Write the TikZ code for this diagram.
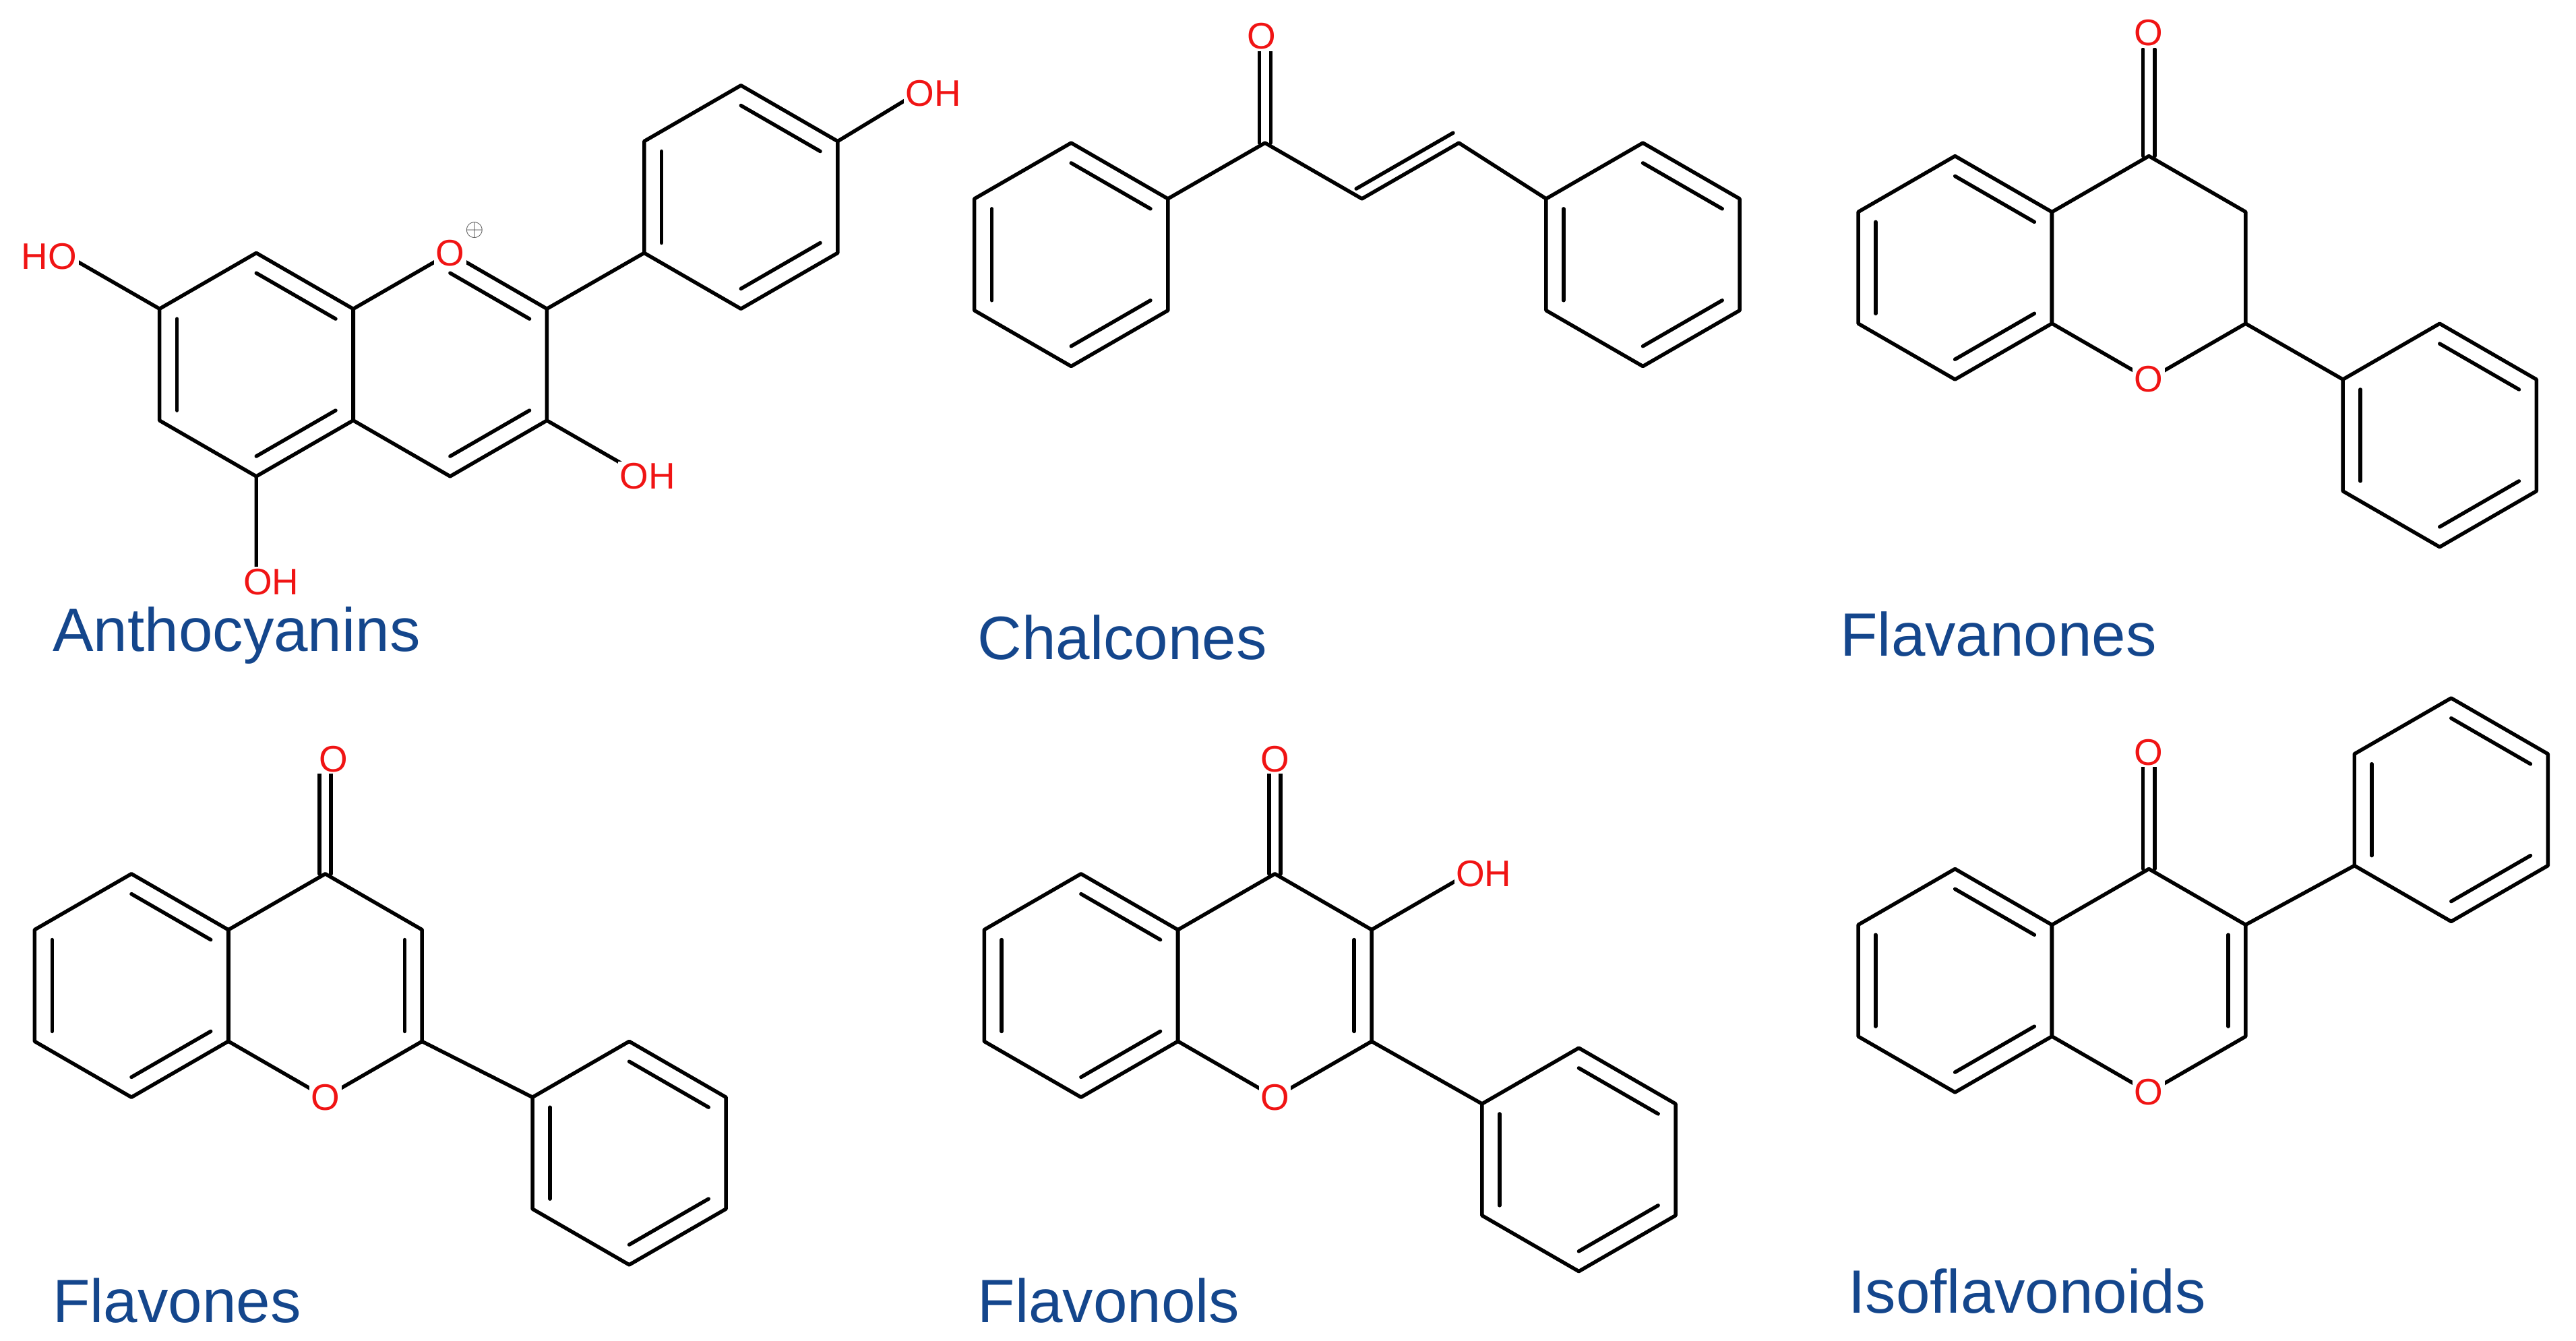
\documentclass[tikz,border=0pt]{standalone}
\usepackage{fontspec}
\setmainfont{Liberation Sans}
\usetikzlibrary{calc}
\definecolor{lblue}{RGB}{20,70,140}
\definecolor{ored}{RGB}{240,20,20}
\tikzset{bond/.style={line width=3.2pt,line cap=round,line join=round},
 atom/.style={text=ored,fill=white,inner sep=1.5pt,font=\fontsize{32}{34}\selectfont},
 lbl/.style={text=lblue,anchor=west,inner sep=0pt,font=\fontsize{53}{62}\selectfont}}
\newcommand\hexa[3]{\foreach \i/\a in {1/-90,2/-30,3/30,4/90,5/150,6/210}{\coordinate (#1\i) at ($(#2,#3)+(\a:68)$);}
 \coordinate (#1c) at (#2,#3);
 \draw[bond] (#11)--(#12)--(#13)--(#14)--(#15)--(#16)--cycle;}
\newcommand\inb[3]{\draw[bond] ($(#1)!0.18!(#3)$) -- ($(#2)!0.18!(#3)$);}
\newcommand\arom[1]{\inb{#11}{#12}{#1c}\inb{#13}{#14}{#1c}\inb{#15}{#16}{#1c}}
\newcommand\cod[2]{\draw[bond] ($(#1)!5pt!90:(#2)$) -- ($(#2)!5pt!-90:(#1)$);
 \draw[bond] ($(#1)!5pt!-90:(#2)$) -- ($(#2)!5pt!90:(#1)$);}
\begin{document}
\begin{tikzpicture}[x=0.05cm,y=-0.05cm]
\useasboundingbox (0,0) rectangle (1568,816);
% ---- Anthocyanins
\hexa{aa}{156}{222}\hexa{ac}{274}{222}\hexa{ab}{451}{120}
\inb{aa1}{aa2}{aac}\inb{aa3}{aa4}{aac}\inb{aa5}{aa6}{aac}
\inb{ac1}{ac2}{acc}\inb{ac3}{ac4}{acc}
\arom{ab}
\coordinate (aOH1) at (38,154);\coordinate (aOH2) at (392,290);
\coordinate (aOH3) at (156,350);\coordinate (aOH4) at (556,58);
\draw[bond] (aa6)--(aOH1) (ac3)--(aOH2) (aa4)--(aOH3) (ab2)--(aOH4) (ac2)--(ab5);
\node[atom] (ao) at (ac1) {O};
\node[text=black!70,font=\fontsize{22}{24}\selectfont,inner sep=0pt] (aplus) at (289,140) {$\oplus$};
\node[atom,anchor=east] (ah1) at (48,156) {HO};
\node[atom,anchor=west] (ah2) at (376,290) {OH};
\node[atom,anchor=north] (ah3) at (165,345) {OH};
\node[atom,anchor=west] (ah4) at (550,57) {OH};
\node[lbl] (l1) at (32,387) {Anthocyanins};
% ---- Chalcones
\hexa{ca}{652}{155}\hexa{cb}{1000}{155}
\arom{ca}\inb{cb1}{cb2}{cbc}\inb{cb3}{cb4}{cbc}\inb{cb5}{cb6}{cbc}
\coordinate (c1) at (770,87);\coordinate (c2) at (829,121);\coordinate (c3) at (888,87);
\coordinate (cO) at (770,28);
\draw[bond] (ca2)--(c1)--(c2)--(c3)--(cb6);
\draw[bond] ($(c2)!10pt!90:(c3)$) -- ($(c3)!10pt!-90:(c2)$);
\cod{c1}{cO}
\node[atom] (co) at (768,22) {O};
\node[lbl] (l2) at (595,388) {Chalcones};
% ---- Flavanones
\hexa{na}{1190}{163}\hexa{nc}{1308}{163}\hexa{nb}{1485}{265}
\arom{na}\arom{nb}
\coordinate (nO) at (1308,30);
\cod{nc1}{nO}\draw[bond] (nc3)--(nb6);
\node[atom] (no) at (nc4) {O};
\node[atom] (no2) at (1308,20) {O};
\node[lbl] (l3) at (1120,386) {Flavanones};
% ---- Flavones
\hexa{fa}{80}{600}\hexa{fc}{198}{600}\hexa{fb}{383}{702}
\arom{fa}\arom{fb}\inb{fc2}{fc3}{fcc}
\coordinate (fO) at (198,470);
\cod{fc1}{fO}\draw[bond] (fc3)--(fb6);
\node[atom] (fo) at (fc4) {O};
\node[atom] (fo2) at (203,462) {O};
\node[lbl] (l4) at (32,792) {Flavones};
% ---- Flavonols
\hexa{la}{658}{600}\hexa{lc}{776}{600}\hexa{lb}{961}{706}
\arom{la}\arom{lb}\inb{lc2}{lc3}{lcc}
\coordinate (lO) at (776,470);\coordinate (lOH) at (890,534);
\cod{lc1}{lO}\draw[bond] (lc3)--(lb6) (lc2)--(lOH);
\node[atom] (lo) at (lc4) {O};
\node[atom] (lo2) at (776,462) {O};
\node[atom,anchor=west] (loh) at (885,532) {OH};
\node[lbl] (l5) at (595,792) {Flavonols};
% ---- Isoflavonoids
\hexa{ia}{1190}{597}\hexa{ic}{1308}{597}\hexa{ib}{1492}{493}
\arom{ia}\arom{ib}\inb{ic2}{ic3}{icc}
\coordinate (iO) at (1308,466);
\cod{ic1}{iO}\draw[bond] (ic2)--(ib5);
\node[atom] (io) at (ic4) {O};
\node[atom] (io2) at (1308,458) {O};
\node[lbl] (l6) at (1125,786) {Isoflavonoids};
\end{tikzpicture}
\end{document}
